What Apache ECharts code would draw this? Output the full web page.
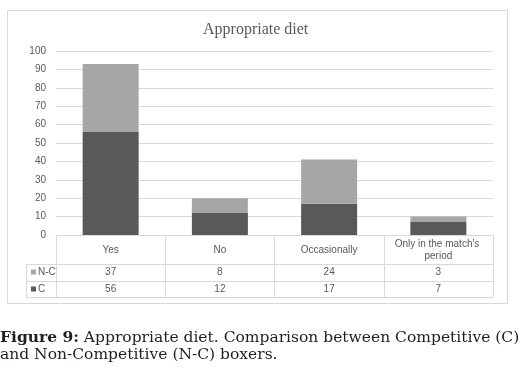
<!DOCTYPE html>
<html>
<head>
<meta charset="utf-8">
<script src="https://cdn.jsdelivr.net/npm/echarts@6/dist/echarts.min.js"></script>
<style>
  html, body { margin: 0; padding: 0; background: #fff; }
  #chart { width: 527px; height: 375px; }
</style>
</head>
<body>
<div id="chart"></div>
<script>
const categories = ['Yes', 'No', 'Occasionally', "Only in the match's period"]
const cValues = [56, 12, 17, 7]
const ncValues = [37, 8, 24, 3]
const yTicks = { min: 0, max: 100, step: 10 }

const gridColor = '#d9d9d9'
const textColor = '#595959'
const tableFont = 'Liberation Sans'

const chart = echarts.init(document.getElementById('chart'))

// table rows are extra category axes sitting under the plot
function rowAxis(offset, values) {
  return {
    type: 'category',
    position: 'bottom',
    offset: offset,
    data: values ? values.map(String) : categories,
    axisLine: { show: true, lineStyle: { color: gridColor } },
    axisTick: { show: false },
    axisLabel: {
      show: !!values,
      interval: 0,
      margin: 8,
      verticalAlign: 'middle',
      color: textColor,
      fontSize: 10,
      fontFamily: tableFont
    }
  }
}

function rowLegend(name, top) {
  return {
    data: [name], left: 31, top: top, padding: 0, icon: 'rect', itemWidth: 5, itemHeight: 5,
    textStyle: { color: textColor, fontSize: 10, fontFamily: tableFont, padding: [0, 0, 0, -3] }
  }
}

const option = {
  animation: false,
  title: {
    text: 'Appropriate diet',
    left: 203,
    top: 22,
    padding: 0,
    textStyle: { fontFamily: 'Liberation Serif', fontWeight: 'normal', fontSize: 16, color: textColor }
  },
  legend: [rowLegend('N-C', 267), rowLegend('C', 284)],
  grid: { left: 56, right: 34, top: 51, bottom: 140 },
  xAxis: [
    {
      type: 'category',
      data: categories,
      axisLine: { show: true, lineStyle: { color: gridColor } },
      axisTick: { show: true, interval: 0, length: 62, lineStyle: { color: gridColor } },
      axisLabel: {
        interval: 0,
        margin: 15,
        verticalAlign: 'middle',
        width: 100,
        overflow: 'break',
        lineHeight: 12,
        color: textColor,
        fontSize: 10,
        fontFamily: tableFont
      }
    },
    rowAxis(29, ncValues),
    rowAxis(46, cValues),
    rowAxis(62, null)
  ],
  yAxis: {
    type: 'value',
    min: yTicks.min,
    max: yTicks.max,
    interval: yTicks.step,
    axisLine: { show: false },
    axisTick: { show: false },
    axisLabel: { margin: 10, color: textColor, fontSize: 10, fontFamily: tableFont },
    splitLine: { lineStyle: { color: gridColor } }
  },
  series: [
    {
      name: 'C',
      type: 'bar',
      stack: 'diet',
      barWidth: 56,
      data: cValues,
      itemStyle: { color: '#595959' }
    },
    {
      name: 'N-C',
      type: 'bar',
      stack: 'diet',
      barWidth: 56,
      data: ncValues,
      itemStyle: { color: '#a6a6a6' }
    }
  ],
  graphic: [
    {
      type: 'rect', shape: { x: 7.5, y: 10.5, width: 500, height: 293 },
      style: { fill: 'none', stroke: gridColor, lineWidth: 1 }, z: -1
    },
    { type: 'line', shape: { x1: 26.5, y1: 264.5, x2: 26.5, y2: 297.5 }, style: { stroke: gridColor } },
    { type: 'line', shape: { x1: 26, y1: 264.5, x2: 56, y2: 264.5 }, style: { stroke: gridColor } },
    { type: 'line', shape: { x1: 26, y1: 281.5, x2: 56, y2: 281.5 }, style: { stroke: gridColor } },
    { type: 'line', shape: { x1: 26, y1: 297.5, x2: 56, y2: 297.5 }, style: { stroke: gridColor } },
    {
      type: 'text',
      left: 0,
      top: 329,
      style: {
        text: '{b|Figure 9:} Appropriate diet. Comparison between Competitive (C)\nand Non-Competitive (N-C) boxers.',
        fontFamily: 'DejaVu Serif',
        fontSize: 15.5,
        lineHeight: 17,
        fill: '#231f20',
        rich: {
          b: { fontFamily: 'DejaVu Serif', fontSize: 15.5, fontWeight: 'bold', fill: '#231f20', lineHeight: 17 }
        }
      }
    }
  ]
}

chart.setOption(option)
</script>
</body>
</html>
